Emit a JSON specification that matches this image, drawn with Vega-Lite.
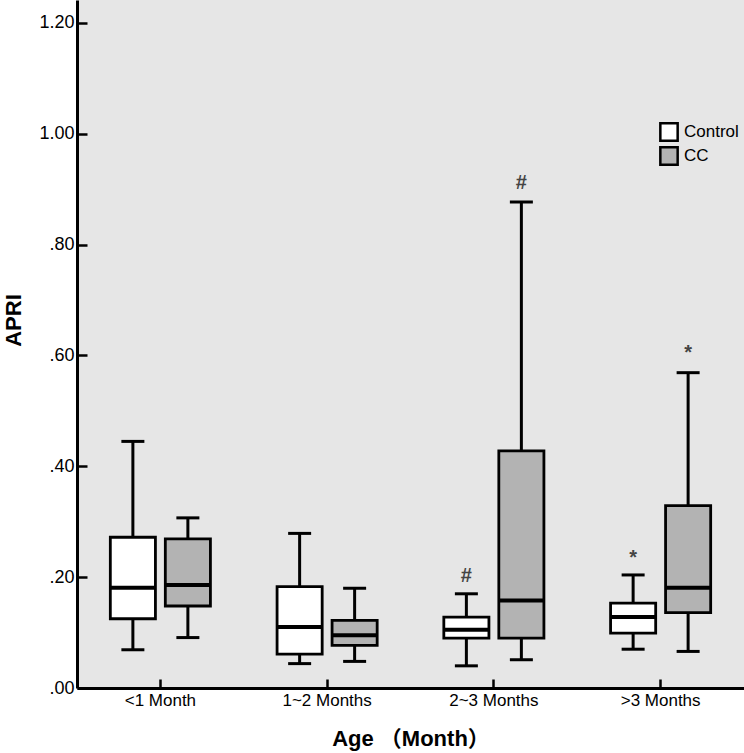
{
  "$schema": "https://vega.github.io/schema/vega-lite/v6.json",
  "autosize": {"type": "none"},
  "padding": {"left": 77, "top": 0, "right": 0, "bottom": 65},
  "width": 667,
  "height": 688,
  "background": "white",
  "view": {"fill": "#e6e6e6", "stroke": null},
  "config": {
    "font": "Liberation Sans",
    "axis": {
      "domainColor": "black", "domainWidth": 3, "tickColor": "black", "tickWidth": 2.5,
      "grid": false, "labelColor": "black", "labelFont": "Liberation Sans", "titleColor": "black",
      "titleFont": "Liberation Sans, Noto Sans CJK SC"
    }
  },
  "datasets": {
    "boxes": [
      {"age": "<1 Month", "group": "Control", "lo": 0.069, "q1": 0.125, "med": 0.181, "q3": 0.272, "hi": 0.445},
      {"age": "<1 Month", "group": "CC", "lo": 0.091, "q1": 0.148, "med": 0.186, "q3": 0.269, "hi": 0.307},
      {"age": "1~2 Months", "group": "Control", "lo": 0.044, "q1": 0.061, "med": 0.110, "q3": 0.183, "hi": 0.279},
      {"age": "1~2 Months", "group": "CC", "lo": 0.048, "q1": 0.077, "med": 0.095, "q3": 0.122, "hi": 0.180},
      {"age": "2~3 Months", "group": "Control", "lo": 0.040, "q1": 0.090, "med": 0.105, "q3": 0.128, "hi": 0.170},
      {"age": "2~3 Months", "group": "CC", "lo": 0.051, "q1": 0.090, "med": 0.158, "q3": 0.428, "hi": 0.877},
      {"age": ">3 Months", "group": "Control", "lo": 0.070, "q1": 0.099, "med": 0.128, "q3": 0.153, "hi": 0.204},
      {"age": ">3 Months", "group": "CC", "lo": 0.066, "q1": 0.136, "med": 0.181, "q3": 0.329, "hi": 0.569}
    ],
    "marks": [
      {"age": "2~3 Months", "group": "Control", "sym": "#", "y": 0.202},
      {"age": "2~3 Months", "group": "CC", "sym": "#", "y": 0.911},
      {"age": ">3 Months", "group": "Control", "sym": "*", "y": 0.234},
      {"age": ">3 Months", "group": "CC", "sym": "*", "y": 0.605}
    ]
  },
  "encoding": {
    "x": {
      "field": "age", "type": "nominal",
      "sort": ["<1 Month", "1~2 Months", "2~3 Months", ">3 Months"],
      "scale": {"paddingInner": 0, "paddingOuter": 0},
      "axis": {
        "labelAngle": 0, "labelFontSize": 17, "labelPadding": 13, "tickSize": -9,
        "title": "Age （Month）", "titleFontSize": 22, "titleFontWeight": "bold",
        "titlePadding": 20
      }
    },
    "xOffset": {
      "field": "group", "type": "nominal", "sort": ["Control", "CC"],
      "scale": {"paddingInner": 0.18, "paddingOuter": 0.606}
    }
  },
  "layer": [
    {
      "data": {"name": "boxes"},
      "mark": {"type": "rule", "color": "black", "strokeWidth": 3},
      "encoding": {
        "y": {
          "field": "lo", "type": "quantitative",
          "scale": {"domain": [0, 1.2415], "nice": false, "zero": true},
          "axis": {
            "values": [0, 0.2, 0.4, 0.6, 0.8, 1.0, 1.2],
            "labelExpr": "datum.value < 1 ? slice(format(datum.value, '.2f'), 1) : format(datum.value, '.2f')",
            "labelFontSize": 18, "labelPadding": 13, "tickSize": -10,
            "title": "APRI", "titleFontSize": 22, "titleFontWeight": "bold",
            "titleAngle": 270, "titleX": -64, "titleY": 320, "titleAlign": "center", "titleBaseline": "middle"
          }
        },
        "y2": {"field": "hi"}
      }
    },
    {
      "data": {"name": "boxes"},
      "mark": {"type": "tick", "color": "black", "opacity": 1, "size": 23, "thickness": 3},
      "encoding": {"y": {"field": "lo", "type": "quantitative"}}
    },
    {
      "data": {"name": "boxes"},
      "mark": {"type": "tick", "color": "black", "opacity": 1, "size": 23, "thickness": 3},
      "encoding": {"y": {"field": "hi", "type": "quantitative"}}
    },
    {
      "data": {"name": "boxes"},
      "mark": {"type": "bar", "stroke": "black", "strokeWidth": 2.8, "opacity": 1},
      "encoding": {
        "y": {"field": "q1", "type": "quantitative"},
        "y2": {"field": "q3"},
        "fill": {
          "field": "group", "type": "nominal",
          "scale": {"domain": ["Control", "CC"], "range": ["#ffffff", "#b3b3b3"]},
          "legend": {
            "title": null, "orient": "none", "legendX": 582, "legendY": 122,
            "symbolType": "square", "symbolSize": 300, "symbolStrokeColor": "black",
            "symbolStrokeWidth": 2.5, "symbolOpacity": 1, "labelFontSize": 17, "labelColor": "black",
            "labelOffset": 5, "rowPadding": -4
          }
        }
      }
    },
    {
      "data": {"name": "boxes"},
      "mark": {"type": "tick", "color": "black", "opacity": 1, "size": 45, "thickness": 4},
      "encoding": {"y": {"field": "med", "type": "quantitative"}}
    },
    {
      "data": {"name": "marks"},
      "mark": {"type": "text", "color": "#444444", "fontSize": 20, "fontWeight": "bold", "baseline": "middle", "align": "center"},
      "encoding": {
        "y": {"field": "y", "type": "quantitative"},
        "text": {"field": "sym"}
      }
    }
  ]
}
